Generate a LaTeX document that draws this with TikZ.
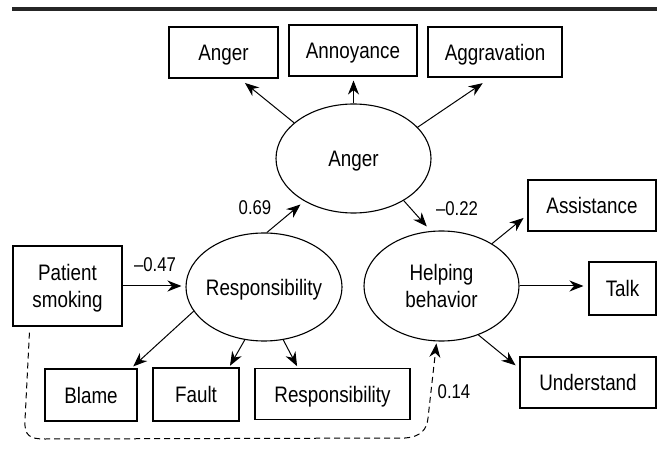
\documentclass[tikz,border=0pt]{standalone}
\usepackage{fontspec}
\setmainfont{Liberation Sans}[FakeStretch=0.84]
\usetikzlibrary{arrows.meta,calc,shapes.geometric}
\begin{document}
\begin{tikzpicture}[x=1bp,y=-1bp,
  box/.style={draw, line width=1.1bp, inner sep=0pt, text depth=0pt, font=\fontsize{22.5}{26.5}\selectfont, align=center},
  lat/.style={draw, ellipse, line width=1.1bp, inner sep=0pt, text depth=0pt, font=\fontsize{22.5}{26.5}\selectfont, align=center},
  lbl/.style={font=\fontsize{20}{24}\selectfont, inner sep=0pt},
  conn/.style={line width=1bp, -{Stealth[length=14bp,width=11bp,inset=4.5bp]}},
  dconn/.style={conn, dash pattern=on 6bp off 4bp}
]
\useasboundingbox (0,0) rectangle (665,450);
% top rule
\draw[line width=3.5bp, black!85] (12,9) -- (657,9);

% indicator boxes (top)
\node[box, minimum width=109bp, minimum height=51bp] (bA) at (223.5,52.5) {Anger};
\node[box, minimum width=128bp, minimum height=51bp] (bAn) at (353,50.5) {Annoyance};
\node[box, minimum width=134bp, minimum height=50bp] (bAg) at (495,52) {Aggravation};

% latent variables
\node[lat, minimum width=155bp, minimum height=109bp] (eAnger) at (353.5,158.5) {Anger};
\node[lat, minimum width=156bp, minimum height=108bp] (eResp) at (264,287) {\makebox[0pt]{Responsibility}};
\node[lat, minimum width=155bp, minimum height=110bp] (eHelp) at (441.5,286) {Helping\\behavior};

% exogenous
\node[box, minimum width=109bp, minimum height=80bp] (bPS) at (67.5,286) {Patient\\smoking};

% bottom indicators
\node[box, minimum width=92bp, minimum height=52bp] (bBlame) at (91,395) {Blame};
\node[box, minimum width=86bp, minimum height=53bp] (bFault) at (196,394.5) {Fault};
\node[box, minimum width=155bp, minimum height=51bp] (bResp) at (332.5,394) {Responsibility};

% right indicators
\node[box, minimum width=128bp, minimum height=51bp] (bAssist) at (592,205.5) {Assistance};
\node[box, minimum width=67bp, minimum height=53bp] (bTalk) at (622.5,288.5) {Talk};
\node[box, minimum width=136bp, minimum height=51bp] (bUnd) at (588,382.5) {Understand};

% connectors
\draw[conn, shorten >=7bp] (eAnger.149) -- ($(bA.south)+(16,0)$);
\draw[conn, shorten >=4bp] (eAnger.north) -- (eAnger.north |- bAn.south);
\draw[conn, shorten >=10bp] (eAnger.26) -- ($(bAg.south)+(-4,0)$);
\draw[conn, shorten >=5bp] (eResp.87) -- (eAnger.221);
\draw[conn, shorten >=6bp] (eAnger.320) -- (eHelp.101);
\draw[conn, shorten >=4bp] (bPS.east) -- (bPS.east -| eResp.west);
\draw[conn, shorten >=3bp] (eResp.199) -- ($(bBlame.north)+(40,0)$);
\draw[conn, shorten >=2bp] (eResp.250) -- ($(bFault.north)+(33,0)$);
\draw[conn, shorten >=2bp] (eResp.290) -- ($(bResp.north)+(-34.5,0)$);
\draw[conn, shorten >=5bp] (eHelp.40) -- ($(bAssist.west)+(0,9.3)$);
\draw[conn, shorten >=5bp] (eHelp.east) -- (eHelp.east -| bTalk.west);
\draw[conn, shorten >=5bp] (eHelp.307) -- ($(bUnd.west)+(0,-14)$);

% dashed path
\coordinate (dStart) at ($(bPS.south west)+(17,6)$);
\draw[dconn, shorten >=2bp] (dStart) -- (25,420) .. controls (24,436) and (30,439) .. (45,439)
  -- (405,438) .. controls (420,437) and (427,430) .. (428,418) -- (eHelp.265);

% path labels
\node[lbl] (l047) at (155,265) {–0.47};
\node[lbl] (l069) at (255,208) {0.69};
\node[lbl] (l022) at (457,209) {–0.22};
\node[lbl] (l014) at (454,392) {0.14};
\end{tikzpicture}
\end{document}
